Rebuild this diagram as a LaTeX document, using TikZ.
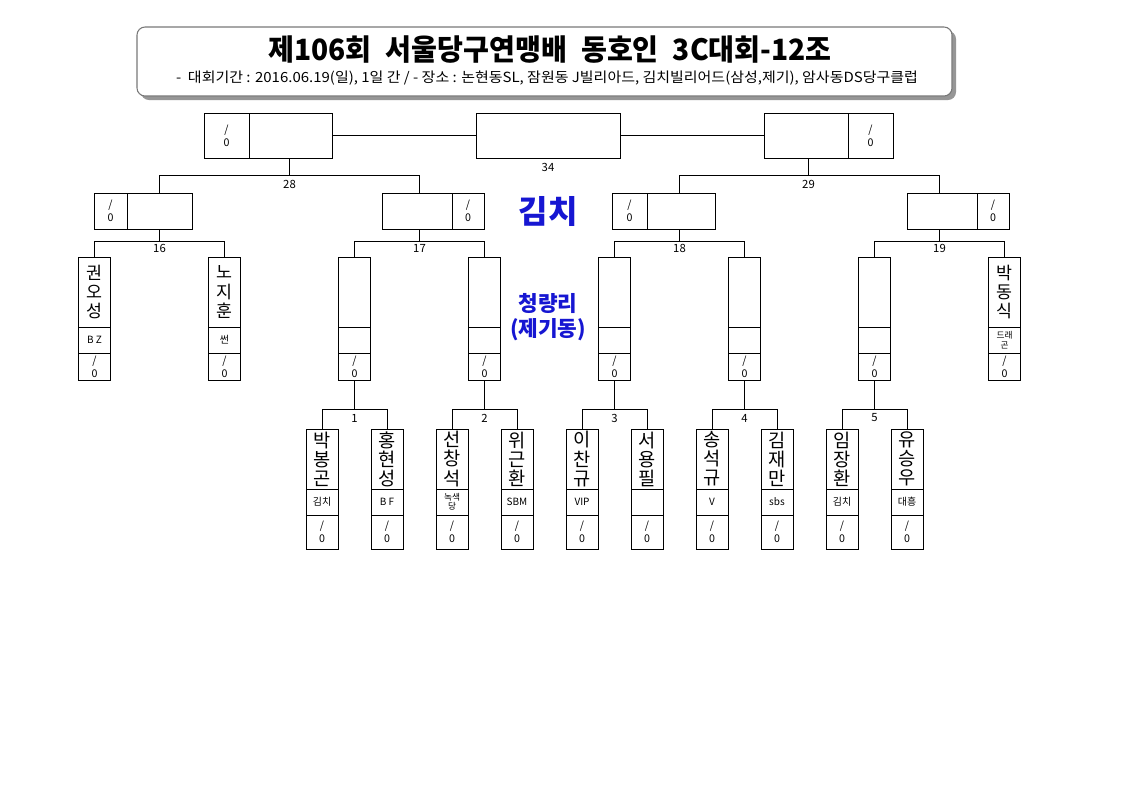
\documentclass[tikz,border=0pt]{standalone}
\usepackage{fontspec}
\usepackage{graphicx}
\setmainfont{Noto Sans CJK KR}
\definecolor{lblblue}{RGB}{22,22,210}
\definecolor{shadowgray}{RGB}{150,150,150}
\definecolor{titleborder}{RGB}{120,120,120}
\tikzset{
  ln/.style={line width=0.7pt},
  box/.style={draw, line width=0.7pt, inner sep=0pt, outer sep=0pt, align=center},
  score/.style={box, font=\fontsize{8}{9.5}\selectfont},
  nmv/.style={box, font=\fontsize{13}{14.6}\selectfont},
  nmb/.style={box, font=\fontsize{14}{14.3}\selectfont},
  club/.style={box, font=\fontsize{7.5}{8}\selectfont},
  clubs/.style={box, font=\fontsize{6.5}{7}\selectfont},
  rnd/.style={inner sep=0pt, font=\fontsize{8.5}{10}\selectfont},
  bluelbl/.style={inner sep=0pt, text=lblblue, align=center},
}
\begin{document}
\begin{tikzpicture}[x=0.75pt,y=-0.75pt]
\useasboundingbox (0,0) rectangle (1123,794);
\fill[white] (0,0) rectangle (1123,794);

% title
\node[fill=shadowgray, rounded corners=6pt, minimum width=611.25pt, minimum height=51.75pt, inner sep=0pt] (tsh) at (548.5,65.5) {};
\node[draw=titleborder, line width=0.8pt, fill=white, rounded corners=6pt, minimum width=611.25pt, minimum height=51.75pt, inner sep=0pt] (tb) at (544.5,61.5) {};
\node[inner sep=0pt, font=\bfseries\fontsize{22}{24}\selectfont] (ttl) at (550,50) {\scalebox{0.96}[1]{제106회\hspace{0.5em}서울당구연맹배\hspace{0.5em}동호인\hspace{0.5em}3C대회-12조}};
\node[inner sep=0pt, font=\fontsize{10.5}{12}\selectfont] (sub) at (547,78) {\scalebox{1.07}[1]{-\ \ 대회기간 : 2016.06.19(일), 1일 간 / - 장소 : 논현동SL, 잠원동 J빌리아드, 김치빌리어드(삼성,제기), 암사동DS당구클럽}};

% final row
\node[score, minimum width=33.75pt, minimum height=33.75pt] (T28s) at (226.5,135.5) {/\\0};
\node[box, minimum width=62.25pt, minimum height=33.75pt] (T28n) at (290.5,135.5) {};
\node[box, minimum width=108pt, minimum height=33.75pt] (T34) at (548,135.5) {};
\node[box, minimum width=63pt, minimum height=33.75pt] (T29n) at (806,135.5) {};
\node[score, minimum width=33.75pt, minimum height=33.75pt] (T29s) at (870.5,135.5) {/\\0};
\draw[ln] (T28n.east) -- (T34.west);
\draw[ln] (T34.east) -- (T29n.west);
\node[rnd] (l34) at (548,167) {34};

% row 2
\node[score, minimum width=24.75pt, minimum height=27pt] (As) at (110.5,211) {/\\0};
\node[box, minimum width=48.75pt, minimum height=27pt] (An) at (159.5,211) {};
\node[box, minimum width=52.5pt, minimum height=27pt] (Bn) at (417,211) {};
\node[score, minimum width=24pt, minimum height=27pt] (Bs) at (468,211) {/\\0};
\node[score, minimum width=26.25pt, minimum height=27pt] (Cs) at (629.5,211) {/\\0};
\node[box, minimum width=51pt, minimum height=27pt] (Cn) at (681,211) {};
\node[box, minimum width=52.5pt, minimum height=27pt] (Dn) at (942,211) {};
\node[score, minimum width=24pt, minimum height=27pt] (Ds) at (993,211) {/\\0};

% blue labels
\node[bluelbl, font=\bfseries\fontsize{24}{26}\selectfont] (kimchi) at (548,211) {김치};
\node[bluelbl, font=\bfseries\fontsize{16}{18.75}\selectfont] (cheong) at (548,317) {청량리\\(제기동)};

% row 3
\foreach \i/\nm/\cl/\cs in {0/{권\\오\\성}/{B Z}/club, 1/{노\\지\\훈}/썬/club, 2/{}/{}/club, 3/{}/{}/club, 4/{}/{}/club, 5/{}/{}/club, 6/{}/{}/club, 7/{박\\동\\식}/{드래\\곤}/clubs}{
  \pgfmathsetmacro\xx{94.5+130*\i}
  \node[nmv, minimum width=24pt, minimum height=52.5pt] (p\i) at (\xx,292) {\nm};
  \node[\cs, minimum width=24pt, minimum height=19.5pt] (c\i) at (\xx,340) {\cl};
  \node[score, minimum width=24pt, minimum height=20.25pt] (s\i) at (\xx,366.5) {/\\0};
}

% row 4
\foreach \i/\nm/\cl/\cs in {0/{박\\봉\\곤}/김치/club, 1/{홍\\현\\성}/{B F}/club, 2/{선\\창\\석}/{녹색\\당}/clubs, 3/{위\\근\\환}/SBM/club, 4/{이\\찬\\규}/VIP/club, 5/{서\\용\\필}/{}/club, 6/{송\\석\\규}/V/club, 7/{김\\재\\만}/sbs/club, 8/{임\\장\\환}/김치/club, 9/{유\\승\\우}/대흥/club}{
  \pgfmathsetmacro\xx{322+65*\i}
  \node[nmb, minimum width=24pt, minimum height=45pt] (q\i) at (\xx,459) {\nm};
  \node[\cs, minimum width=24pt, minimum height=19.5pt] (d\i) at (\xx,502) {\cl};
  \node[score, minimum width=24pt, minimum height=25.5pt] (e\i) at (\xx,532) {/\\0};
}

% row 4 connectors
\foreach \p in {0,...,4}{
  \pgfmathtruncatemacro\l{2*\p}
  \pgfmathtruncatemacro\r{2*\p+1}
  \pgfmathtruncatemacro\q{\p+2}
  \pgfmathtruncatemacro\lab{\p+1}
  \pgfmathsetmacro\jx{354.5+130*\p}
  \coordinate (j4\p) at (\jx,409);
  \draw[ln] (q\l.north) |- (j4\p) -| (q\r.north);
  \draw[ln] (j4\p) -- (s\q.south);
  \node[rnd] (lab4\p) at (\jx,418) {\lab};
}

% row 3 connectors
\foreach \p/\pn/\lab in {0/An/16, 1/Bn/17, 2/Cn/18, 3/Dn/19}{
  \pgfmathtruncatemacro\l{2*\p}
  \pgfmathtruncatemacro\r{2*\p+1}
  \pgfmathsetmacro\jx{159.5+260*\p}
  \coordinate (j3\p) at (\jx,241);
  \draw[ln] (p\l.north) |- (j3\p) -| (p\r.north);
  \draw[ln] (j3\p) -- (j3\p |- \pn.south);
  \node[rnd] (lab3\p) at (\jx,248.5) {\lab};
}

% row 2 connectors
\coordinate (j28) at (289.5,175.5);
\coordinate (j29) at (808.5,175.5);
\draw[ln] (j30 |- An.north) |- (j28) -| (j31 |- Bn.north);
\draw[ln] (j28) -- (j28 |- T28n.south);
\draw[ln] (j32 |- Cn.north) |- (j29) -| (j33 |- Dn.north);
\draw[ln] (j29) -- (j29 |- T29n.south);
\node[rnd] (l28) at (289.5,184.5) {28};
\node[rnd] (l29) at (808.5,184.5) {29};
\end{tikzpicture}
\end{document}
